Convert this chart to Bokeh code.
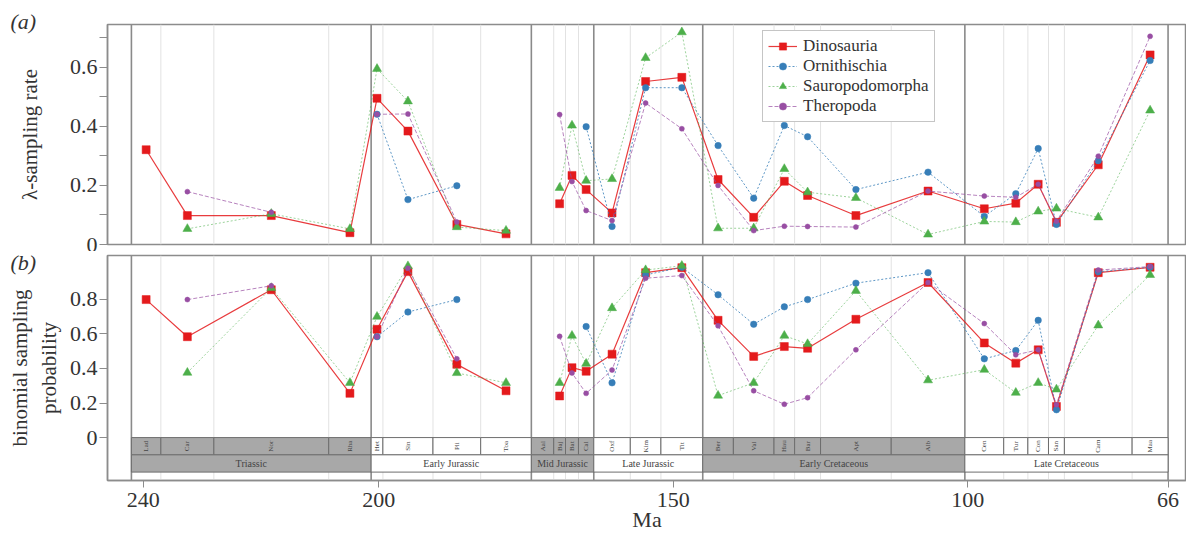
import numpy as np
from bokeh.plotting import figure
from bokeh.layouts import column
from bokeh.models import Range1d, FixedTicker, Span, Legend, LegendItem, ColumnDataSource
from bokeh.embed import file_html
from bokeh.resources import INLINE
from bokeh.core.properties import value

# ---------------- data ----------------
stages = ["Lad", "Car", "Nor", "Rha", "Het", "Sin", "Pli", "Toa", "Aal", "Baj", "Bat", "Cal",
          "Oxf", "Kim", "Tit", "Ber", "Val", "Hau", "Bar", "Apt", "Alb", "Cen", "Tur", "Con",
          "San", "Cam", "Maa"]
stage_base = [242.0, 237.0, 228.0, 208.5, 201.3, 199.3, 190.8, 182.7, 174.1, 170.3, 168.3, 166.1,
              163.5, 157.3, 152.1, 145.0, 139.8, 132.9, 129.4, 125.0, 113.0, 100.5, 93.9, 89.8,
              86.3, 83.6, 72.1]
stage_top = [237.0, 228.0, 208.5, 201.3, 199.3, 190.8, 182.7, 174.1, 170.3, 168.3, 166.1, 163.5,
             157.3, 152.1, 145.0, 139.8, 132.9, 129.4, 125.0, 113.0, 100.5, 93.9, 89.8, 86.3,
             83.6, 72.1, 66.0]
stage_epoch = [0, 0, 0, 0, 1, 1, 1, 1, 2, 2, 2, 2, 3, 3, 3, 4, 4, 4, 4, 4, 4, 5, 5, 5, 5, 5, 5]

epochs = ["Triassic", "Early Jurassic", "Mid Jurassic", "Late Jurassic", "Early Cretaceous",
          "Late Cretaceous"]
epoch_base = [242.0, 201.3, 174.1, 163.5, 145.0, 100.5]
epoch_top = [201.3, 174.1, 163.5, 145.0, 100.5, 66.0]
epoch_shaded = [True, False, True, False, True, False]

epoch_bounds = [242.0, 201.3, 174.1, 163.5, 145.0, 100.5, 66.0]
stage_bounds = [237.0, 228.0, 208.5, 199.3, 190.8, 182.7, 170.3, 168.3, 166.1, 157.3, 152.1,
                139.8, 132.9, 129.4, 125.0, 113.0, 93.9, 89.8, 86.3, 83.6, 72.1]

nan = np.nan
# (a) lambda sampling rate
dino_a = [0.321, 0.098, 0.098, 0.040, 0.495, 0.384, 0.068, 0.036, nan, 0.138, 0.234, 0.186,
          0.107, 0.552, 0.566, 0.220, 0.092, 0.214, 0.166, 0.098, 0.181, 0.121, 0.140, 0.204,
          0.075, 0.270, 0.642]
orn_a = [nan, nan, nan, nan, 0.441, 0.152, 0.199, nan, nan, nan, nan, 0.399,
         0.061, 0.531, 0.531, 0.335, 0.157, 0.403, 0.365, 0.186, 0.245, 0.095, 0.172, 0.325,
         0.068, 0.284, 0.623]
saur_a = [nan, 0.053, 0.104, 0.053, 0.595, 0.485, 0.059, 0.047, nan, 0.192, 0.403, 0.216,
          0.222, 0.632, 0.719, 0.055, 0.055, 0.256, 0.177, 0.158, 0.034, 0.078, 0.076, 0.112,
          0.122, 0.092, 0.454]
ther_a = [nan, 0.179, 0.109, nan, 0.441, 0.442, 0.076, nan, nan, 0.440, 0.213, 0.115,
          0.081, 0.479, 0.392, 0.200, 0.047, 0.062, 0.061, 0.059, 0.181, 0.164, 0.160, 0.204,
          0.079, 0.299, 0.705]
# (b) binomial sampling probability
dino_b = [0.799, 0.584, 0.856, 0.256, 0.627, 0.961, 0.424, 0.271, nan, 0.241, 0.405, 0.384,
          0.483, 0.955, 0.984, 0.679, 0.470, 0.527, 0.517, 0.685, 0.898, 0.548, 0.431, 0.508,
          0.180, 0.955, 0.986]
orn_b = [nan, nan, nan, nan, 0.584, 0.727, 0.799, nan, nan, nan, nan, 0.643,
         0.317, 0.942, 0.986, 0.827, 0.656, 0.757, 0.799, 0.894, 0.955, 0.456, 0.504, 0.679,
         0.161, 0.960, 0.986]
saur_b = [nan, 0.376, 0.866, 0.317, 0.700, 0.993, 0.374, 0.317, nan, 0.317, 0.590, 0.428,
          0.750, 0.970, 0.995, 0.243, 0.317, 0.590, 0.542, 0.850, 0.332, 0.393, 0.260, 0.317,
          0.279, 0.650, 0.942]
ther_b = [nan, 0.799, 0.879, nan, 0.584, 0.980, 0.456, nan, nan, 0.586, 0.374, 0.256,
          0.391, 0.923, 0.938, 0.647, 0.271, 0.193, 0.231, 0.508, 0.898, 0.660, 0.479, 0.508,
          0.190, 0.970, 0.990]

series_names = ["Dinosauria", "Ornithischia", "Sauropodomorpha", "Theropoda"]
series_a = [dino_a, orn_a, saur_a, ther_a]
series_b = [dino_b, orn_b, saur_b, ther_b]

yticks_a = [0, 0.2, 0.4, 0.6]
yminor_a = [0.1, 0.3, 0.5, 0.7]
yticks_b = [0, 0.2, 0.4, 0.6, 0.8]
xticks = [240, 200, 150, 100, 66]

# ---------------- styles ----------------
FONT = "Liberation Serif"
colors = ["#e41a1c", "#377eb8", "#4daf4a", "#984ea3"]
markers = ["square", "circle", "triangle", "circle"]
msizes = [8, 6.5, 9, 5]
dashes = ["solid", "2 2", "2 2", "4 2"]
lwidths = [1.2, 1.0, 1.0, 1.0]
lalphas = [0.85, 0.8, 0.55, 0.7]
FRAME = "#8c8c8c"
TXT = "#333333"

stage_mid = [(b + t) / 2 for b, t in zip(stage_base, stage_top)]

xr = Range1d(246.06, 62.87)
W = 1186


def base_fig(height, yr, top, bottom, xaxis):
    p = figure(width=W, height=height, x_range=xr, y_range=yr,
               output_backend="svg", toolbar_location=None,
               x_axis_location=("below" if xaxis else None),
               min_border_left=107, min_border_right=0,
               min_border_top=top, min_border_bottom=bottom)
    p.xgrid.visible = False
    p.ygrid.visible = False
    p.outline_line_color = FRAME
    p.outline_line_width = 1.5
    p.background_fill_color = "white"
    p.border_fill_color = "white"
    for b in stage_bounds:
        p.add_layout(Span(location=b, dimension="height", line_color="#e2e2e2",
                          line_width=1, level="underlay"))
    for b in epoch_bounds:
        p.add_layout(Span(location=b, dimension="height", line_color="#8a8a8a",
                          line_width=1.6, level="underlay"))
    ax = p.yaxis[0]
    ax.axis_line_color = FRAME
    ax.axis_line_width = 1.5
    ax.major_tick_line_color = FRAME
    ax.minor_tick_line_color = FRAME
    ax.major_tick_out = 8
    ax.major_tick_in = 0
    ax.minor_tick_out = 8
    ax.minor_tick_in = 0
    ax.major_label_standoff = 2
    ax.major_label_text_font = FONT
    ax.major_label_text_font_size = "22px"
    ax.major_label_text_color = TXT
    ax.axis_label_text_font = FONT
    ax.axis_label_text_font_size = "21px"
    ax.axis_label_text_font_style = "normal"
    ax.axis_label_text_color = TXT
    ax.major_label_overrides = {0: "0"}
    return p


def panel_tag(p, text, line_height, standoff):
    t = p.title
    t.text = text
    t.align = "left"
    t.vertical_align = "middle"
    t.offset = -97
    t.text_font = FONT
    t.text_font_size = "22px"
    t.text_font_style = "italic"
    t.text_color = TXT
    t.text_line_height = line_height
    try:
        t.standoff = standoff
    except Exception:
        t.standoff = 0


def draw_series(p, data):
    items = []
    for name, ys, c, m, ms, d, lw, la in zip(series_names, data, colors, markers, msizes,
                                             dashes, lwidths, lalphas):
        src = ColumnDataSource(dict(x=stage_mid, y=ys))
        lr = p.line("x", "y", source=src, line_color=c, line_width=lw, line_alpha=la,
                    line_dash=d)
        sr = p.scatter("x", "y", source=src, marker=m, size=ms, fill_color=c,
                       line_color=c, line_width=0.5)
        items.append(LegendItem(label=name, renderers=[lr, sr]))
    return items


# ---------------- panel (a) ----------------
pa = base_fig(251, Range1d(0, 0.745), 24, 7, False)
pa.yaxis[0].ticker = FixedTicker(ticks=yticks_a, minor_ticks=yminor_a)
pa.yaxis[0].axis_label = "λ-sampling rate"
pa.yaxis[0].axis_label_standoff = 25
items = draw_series(pa, series_a)
legend = Legend(items=items, location=(655, 122), orientation="vertical",
                label_text_font=FONT, label_text_font_size="17px", label_text_color=TXT,
                label_text_line_height=1.0,
                glyph_width=29, glyph_height=18, label_height=18, label_standoff=6,
                padding=5, margin=0, spacing=0,
                border_line_color="#8c8c8c", border_line_width=1.5,
                background_fill_color="white", background_fill_alpha=1.0)
pa.add_layout(legend)
panel_tag(pa, "(a)", 1.2, -21)

# ---------------- panel (b) ----------------
pb = base_fig(286, Range1d(-0.2486, 1.0543), 1, 57, True)
pb.yaxis[0].ticker = FixedTicker(ticks=yticks_b, minor_ticks=[])
pb.yaxis[0].axis_label = "binomial sampling\nprobability"
pb.yaxis[0].axis_label_standoff = 6
pb.yaxis[0].axis_label_text_line_height = 1.2
panel_tag(pb, "\n(b)", 0.7, -41)

# geological timescale
st_fill = ["#a8a8a8" if epoch_shaded[e] else "white" for e in stage_epoch]
ep_fill = ["#a8a8a8" if s else "white" for s in epoch_shaded]
pb.quad(left=stage_base, right=stage_top, top=0, bottom=-0.1, fill_color=st_fill,
        line_color="#6e6e6e", line_width=1)
pb.quad(left=epoch_base, right=epoch_top, top=-0.1, bottom=-0.2, fill_color=ep_fill,
        line_color="#6e6e6e", line_width=1)
pb.text(x=stage_mid, y=[-0.05] * len(stages), text=stages, angle=np.pi / 2,
        text_font=value(FONT), text_font_size="7px", text_color="#444444",
        text_align="center", text_baseline="middle")
pb.text(x=[(b + t) / 2 for b, t in zip(epoch_base, epoch_top)], y=[-0.15] * len(epochs),
        text=epochs, text_font=value(FONT), text_font_size="10px", text_color="#444444",
        text_align="center", text_baseline="middle")

draw_series(pb, series_b)

xa = pb.xaxis[0]
xa.ticker = FixedTicker(ticks=xticks, minor_ticks=[])
xa.axis_line_color = FRAME
xa.axis_line_width = 1.5
xa.major_tick_line_color = FRAME
xa.major_tick_out = 7
xa.major_tick_in = 0
xa.minor_tick_out = 0
xa.minor_tick_in = 0
xa.major_label_standoff = 5
xa.major_label_text_font = FONT
xa.major_label_text_font_size = "22px"
xa.major_label_text_color = TXT
xa.axis_label = "Ma"
xa.axis_label_standoff = -3
xa.axis_label_text_font = FONT
xa.axis_label_text_font_size = "22px"
xa.axis_label_text_font_style = "normal"
xa.axis_label_text_color = TXT

layout = column(pa, pb, spacing=0)
open("out.html", "w").write(file_html(layout, INLINE))
